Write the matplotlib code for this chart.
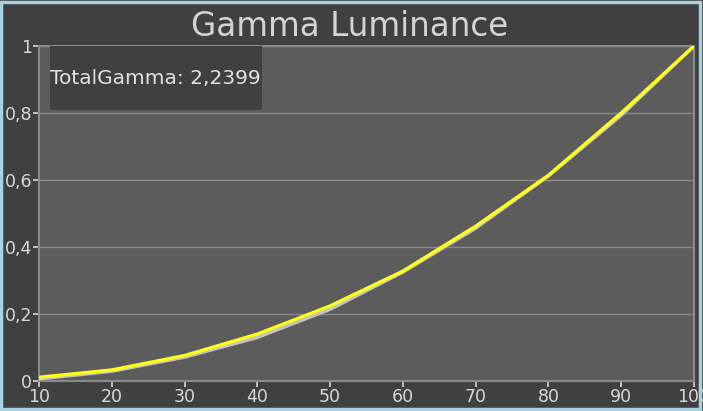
import matplotlib.pyplot as plt
from matplotlib.ticker import FuncFormatter
from matplotlib.patches import Rectangle

# data
levels = [10, 20, 30, 40, 50, 60, 70, 80, 90, 100]
target = [0.006, 0.029, 0.071, 0.130, 0.214, 0.325, 0.456, 0.612, 0.793, 1.0]
measured = [0.011, 0.033, 0.076, 0.140, 0.224, 0.328, 0.462, 0.614, 0.800, 1.0]
total_gamma = '2,2399'
yticks = [0, 0.2, 0.4, 0.6, 0.8, 1.0]

fig = plt.figure(figsize=(7.03, 4.11), dpi=100, facecolor='#404040')
# light blue frame round the whole picture
fig.patches.append(Rectangle((0.002, 0.004), 0.994, 0.992, transform=fig.transFigure,
                             fill=False, edgecolor='#a6d2e2', linewidth=2.5))

ax = fig.add_axes([39 / 703, 30 / 411, 655 / 703, 335 / 411])
ax.set_facecolor('#5c5c5c')
for s in ax.spines.values():
    s.set_color('#8a8a8a')
    s.set_linewidth(1.5)

ax.plot(levels, target, color='#c4c4c4', linewidth=2.4, zorder=3)
ax.plot(levels, measured, color='#ffff1a', linewidth=2.4, zorder=4)

ax.set_xlim(10, 100)
ax.set_ylim(0, 1)
ax.set_xticks(levels)
ax.set_yticks(yticks)
ax.yaxis.set_major_formatter(FuncFormatter(lambda v, p: ('%g' % v).replace('.', ',')))
ax.grid(axis='y', color='#8a8a8a', linewidth=1)
ax.tick_params(colors='#d8d8d8', labelsize=12.5, length=4, width=1.2, pad=1)

fig.text(0.497, 0.936, 'Gamma Luminance', color='#d4d4d4', fontsize=23.5,
         ha='center', va='center')

# TotalGamma box in the top left corner
ax.add_patch(Rectangle((11 / 655, 1 - 64 / 335), 212 / 655, 64 / 335, transform=ax.transAxes,
                       facecolor='#404040', edgecolor='none', zorder=5))
ax.text(11 / 655, 1 - 33 / 335, 'TotalGamma: ' + total_gamma, transform=ax.transAxes,
        color='#e2e2e2', fontsize=14.5, va='center', ha='left', zorder=6)

fig.savefig('out.png', dpi=100, facecolor=fig.get_facecolor())
